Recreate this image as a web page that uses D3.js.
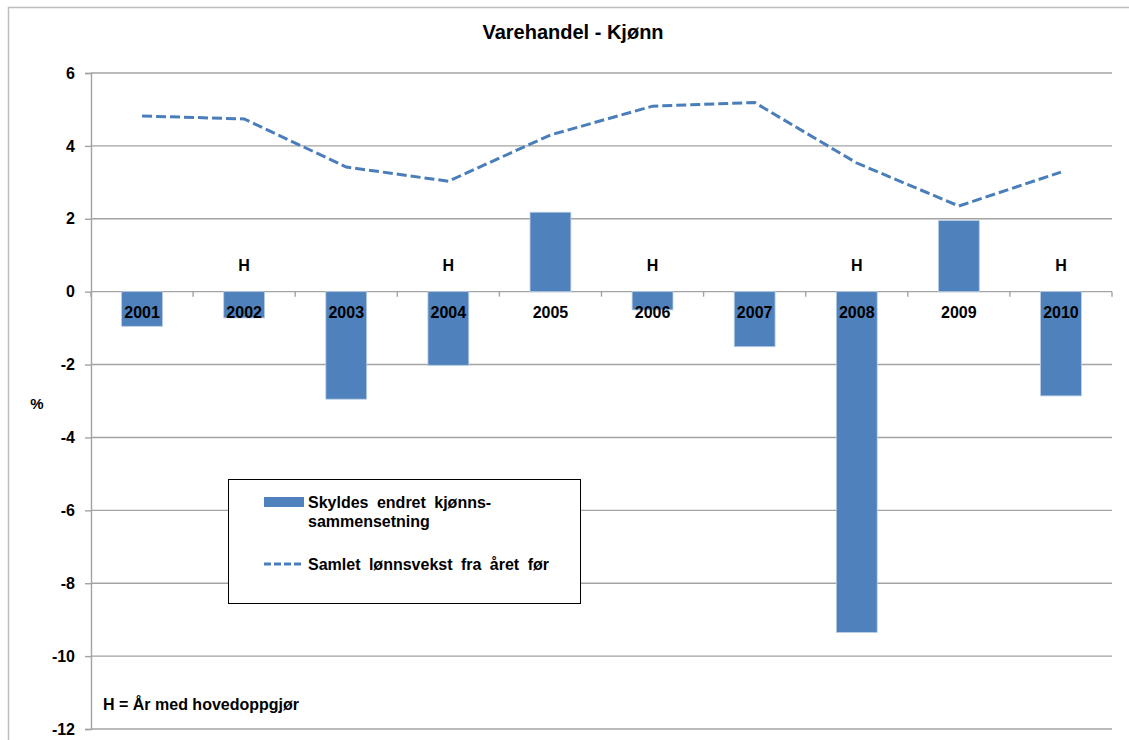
<!DOCTYPE html>
<style>
    body { margin: 0; background: #fff; }
    text { font-family: "Liberation Sans", Arial, Helvetica, sans-serif; font-weight: bold; }
</style>
<body>

<script src="https://d3js.org/d3.v7.min.js"></script>
<script>
    var years = ["2001", "2002", "2003", "2004", "2005", "2006", "2007", "2008", "2009", "2010"];
    var kjonnEffekt = [-0.95, -0.72, -2.95, -2.02, 2.18, -0.5, -1.51, -9.35, 1.95, -2.86];
    var lonnsvekst = [4.82, 4.74, 3.42, 3.03, 4.3, 5.09, 5.19, 3.53, 2.35, 3.28];
    var hovedoppgjor = ["2002", "2004", "2006", "2008", "2010"];
    var yTicks = [6, 4, 2, 0, -2, -4, -6, -8, -10, -12];

    var width = 1129,
        height = 740;

    var svg = d3.select("body").append("svg")
        .attr("width", width)
        .attr("height", height);

    var margin = { top: 73, left: 91, right: 17, bottom: 11 };
    var plotW = width - margin.left - margin.right,
        plotH = height - margin.top - margin.bottom;

    // outer chart frame (right/bottom edges fall outside the picture)
    svg.append("rect")
        .attr("x", 8.5).attr("y", 7.5)
        .attr("width", 1200).attr("height", 800)
        .attr("fill", "none")
        .attr("stroke", "#bdbdbd")
        .attr("stroke-width", 1.5);

    svg.append("text")
        .attr("x", 573).attr("y", 39)
        .attr("text-anchor", "middle")
        .attr("font-size", 20)
        .text("Varehandel - Kjønn");

    var g = svg.append("g").attr("transform", "translate(" + margin.left + "," + margin.top + ")");

    var x = d3.scaleBand()
        .domain(years)
        .range([0, plotW])
        .paddingInner(0.6)
        .paddingOuter(0.3);

    var y = d3.scaleLinear()
        .domain([-12, 6])
        .range([plotH, 0]);

    // gridlines
    g.append("g")
        .selectAll("line")
        .data(yTicks)
        .enter().append("line")
        .attr("x1", 0).attr("x2", plotW)
        .attr("y1", function(d) { return y(d); })
        .attr("y2", function(d) { return y(d); })
        .attr("stroke", "#a3a3a3")
        .attr("stroke-width", 1.4);

    // y axis
    var yAxis = g.append("g")
        .call(d3.axisLeft(y).tickValues(yTicks).tickSize(6).tickPadding(10).tickFormat(function(d) { return String(d); }));
    yAxis.select(".domain").attr("stroke", "#a3a3a3").attr("stroke-width", 1.4);
    yAxis.selectAll(".tick line").attr("stroke", "#a3a3a3").attr("stroke-width", 1.4);
    yAxis.selectAll("text")
        .attr("font-size", 16)
        .attr("font-weight", "bold")
        .attr("font-family", "'Liberation Sans', Arial, sans-serif")
        .attr("fill", "#000");

    // bars
    g.append("g")
        .selectAll("rect")
        .data(years)
        .enter().append("rect")
        .attr("x", function(d) { return x(d); })
        .attr("width", x.bandwidth())
        .attr("y", function(d, i) { return y(Math.max(0, kjonnEffekt[i])); })
        .attr("height", function(d, i) { return Math.abs(y(kjonnEffekt[i]) - y(0)); })
        .attr("fill", "#4f81bd")
        .attr("stroke", "#b9cde5")
        .attr("stroke-width", 0.8);

    // category ticks on zero line
    var step = x.step();
    g.append("g")
        .selectAll("line")
        .data(d3.range(years.length + 1))
        .enter().append("line")
        .attr("x1", function(d) { return d * step; })
        .attr("x2", function(d) { return d * step; })
        .attr("y1", y(0)).attr("y2", y(0) + 5)
        .attr("stroke", "#a3a3a3")
        .attr("stroke-width", 1.4);

    // year labels
    g.append("g")
        .selectAll("text")
        .data(years)
        .enter().append("text")
        .attr("x", function(d) { return x(d) + x.bandwidth() / 2; })
        .attr("y", y(0) + 26)
        .attr("text-anchor", "middle")
        .attr("font-size", 16)
        .text(function(d) { return d; });

    // H markers
    g.append("g")
        .selectAll("text")
        .data(hovedoppgjor)
        .enter().append("text")
        .attr("x", function(d) { return x(d) + x.bandwidth() / 2; })
        .attr("y", y(0) - 21)
        .attr("text-anchor", "middle")
        .attr("font-size", 16)
        .text("H");

    // line
    var line = d3.line()
        .x(function(d, i) { return x(years[i]) + x.bandwidth() / 2; })
        .y(function(d) { return y(d); });

    g.append("path")
        .datum(lonnsvekst)
        .attr("d", line)
        .attr("fill", "none")
        .attr("stroke", "#4a7ebb")
        .attr("stroke-width", 3)
        .attr("stroke-dasharray", "10,4");

    // y label
    svg.append("text")
        .attr("x", 37).attr("y", 409)
        .attr("text-anchor", "middle")
        .attr("font-size", 15)
        .text("%");

    // note
    svg.append("text")
        .attr("x", 103).attr("y", 710)
        .attr("font-size", 16)
        .text("H = År med hovedoppgjør");

    // legend
    var legend = svg.append("g").attr("transform", "translate(228,479)");
    legend.append("rect")
        .attr("x", 0.5).attr("y", 0.5)
        .attr("width", 352).attr("height", 124)
        .attr("fill", "#fff")
        .attr("stroke", "#000")
        .attr("stroke-width", 1);
    legend.append("rect")
        .attr("x", 36).attr("y", 18)
        .attr("width", 40).attr("height", 10)
        .attr("fill", "#4f81bd");
    legend.append("text")
        .attr("x", 80).attr("y", 29)
        .attr("font-size", 16)
        .attr("word-spacing", 4)
        .text("Skyldes endret kjønns-");
    legend.append("text")
        .attr("x", 80).attr("y", 48)
        .attr("font-size", 16)
        .text("sammensetning");
    legend.append("line")
        .attr("x1", 36).attr("x2", 76)
        .attr("y1", 85).attr("y2", 85)
        .attr("stroke", "#4a7ebb")
        .attr("stroke-width", 3)
        .attr("stroke-dasharray", "7,3");
    legend.append("text")
        .attr("x", 80).attr("y", 91)
        .attr("font-size", 16)
        .attr("word-spacing", 4)
        .text("Samlet lønnsvekst fra året før");
</script>
</body>
